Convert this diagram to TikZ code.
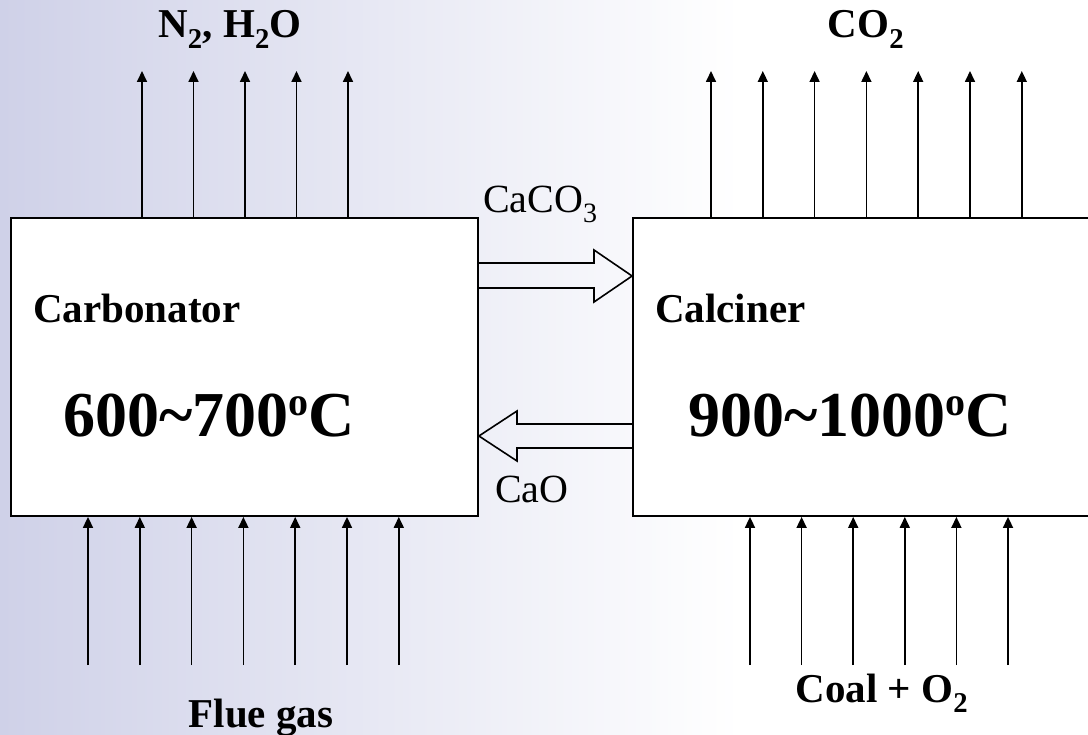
\documentclass[tikz,border=0pt]{standalone}
\usepackage{fontspec}
\setmainfont{Liberation Serif}
\usetikzlibrary{arrows.meta, positioning, calc}
\definecolor{slideblue}{RGB}{207, 209, 232}
\newcommand{\dego}{\raisebox{0.34em}{\fontsize{40}{40}\selectfont o}}

\begin{document}
\begin{tikzpicture}[x=1pt, y=-1pt,
  reactor/.style={draw, line width=1.8pt, fill=white, inner sep=0pt, minimum height=298pt},
  flow/.style={-{Triangle[length=11pt, width=10pt]}, line width=1.7pt},
  hollow/.style={line width=1.6pt, line join=miter},
  lbl/.style={inner sep=0pt, font=\fontsize{40}{48}\selectfont},
  blbl/.style={inner sep=0pt, font=\fontsize{41}{49}\selectfont\bfseries},
  temp/.style={inner sep=0pt, font=\fontsize{64}{76}\selectfont\bfseries}
]
  \useasboundingbox (0,0) rectangle (1088,735);
  \clip (0,0) rectangle (1088,735);
  \shade[left color=slideblue, right color=white] (0,0) rectangle (740,735);

  % reactors
  \node[reactor, minimum width=467pt] (carbonator) at (244.5,367) {};
  \node[reactor, minimum width=470pt] (calciner) at (868,367) {};

  \node[blbl, anchor=base west] (carbname) at (33,323) {Carbonator};
  \node[temp, anchor=base west] (carbtemp) at (63,437) {600\textasciitilde700\dego C};
  \node[blbl, anchor=base west] (calcname) at (655,323) {Calciner};
  \node[temp, anchor=base west] (calctemp) at (688,437) {900\textasciitilde1000\dego C};

  % gas streams
  \node[blbl, anchor=base] (outgas) at (230,38) {N\textsubscript{2}, H\textsubscript{2}O};
  \node[blbl, anchor=base] (co2) at (866,38) {CO\textsubscript{2}};
  \node[blbl, anchor=base] (flue) at (261,727) {Flue gas};
  \node[blbl, anchor=base] (fuel) at (882,702) {Coal + O\textsubscript{2}};

  \foreach \i in {0,...,4}{
    \coordinate (up\i) at ({142+51.5*\i},71);
    \draw[flow] (carbonator.north -| up\i) -- (up\i);
  }
  \foreach \i in {0,...,6}{
    \coordinate (co\i) at ({711+51.8*\i},71);
    \draw[flow] (calciner.north -| co\i) -- (co\i);
  }
  \foreach \i in {0,...,6}{
    \coordinate (fg\i) at ({88+51.8*\i},665);
    \draw[flow] (fg\i) -- (carbonator.south -| fg\i);
  }
  \foreach \i in {0,...,5}{
    \coordinate (cl\i) at ({750+51.6*\i},665);
    \draw[flow] (cl\i) -- (calciner.south -| cl\i);
  }

  % solids loop
  \node[lbl, anchor=base west] (caco3) at (483,213) {CaCO\textsubscript{3}};
  \node[lbl, anchor=base west] (cao) at (495,502) {CaO};
  \draw[hollow] (carbonator.east |- 0,263) -- (594,263) -- (594,250)
    -- (calciner.west |- 0,276) -- (594,302) -- (594,288) -- (carbonator.east |- 0,288);
  \draw[hollow] (calciner.west |- 0,424) -- (517,424) -- (517,411)
    -- (carbonator.east |- 0,436) -- (517,461) -- (517,448) -- (calciner.west |- 0,448);
\end{tikzpicture}
\end{document}
